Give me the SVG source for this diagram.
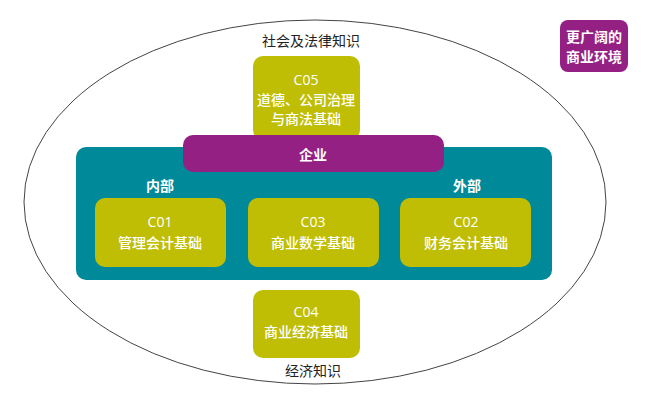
<svg xmlns="http://www.w3.org/2000/svg" width="671" height="400" viewBox="0 0 671 400">
<style>
.olive{fill:#c0be04}
.teal{fill:#008a99}
.purple{fill:#952084}
.w{fill:#ffffff;font-family:"Open Sans","Noto Sans CJK SC",sans-serif;font-size:14px;font-weight:500;text-anchor:middle;dominant-baseline:central}
.b{font-weight:bold}
.d{fill:#222222;font-family:"Open Sans","Noto Sans CJK SC",sans-serif;font-size:14px;text-anchor:middle;dominant-baseline:central}
</style>
<rect width="671" height="400" fill="#ffffff"/>
<g id="env">
<ellipse cx="315" cy="202" rx="291" ry="182" fill="none" stroke="#444444" stroke-width="1"/>
<text class="d" x="311" y="40">社会及法律知识</text>
<text class="d" x="313" y="370">经济知识</text>
</g>
<g id="c05">
<rect class="olive" x="253" y="56" width="107" height="84" rx="10"/>
<text class="w" x="306" y="79">C05</text>
<text class="w" x="306" y="99">道德、公司治理</text>
<text class="w" x="306" y="118">与商法基础</text>
</g>
<g id="teal">
<rect class="teal" x="76" y="147" width="476" height="133" rx="10"/>
<text class="w b" x="160" y="185">内部</text>
<text class="w b" x="467" y="185">外部</text>
</g>
<g id="enterprise">
<rect class="purple" x="183" y="135" width="261" height="37" rx="10"/>
<text class="w b" x="313" y="154">企业</text>
</g>
<g id="c01">
<rect class="olive" x="95" y="198" width="131" height="69" rx="10"/>
<text class="w" x="160" y="221">C01</text>
<text class="w" x="160" y="242">管理会计基础</text>
</g>
<g id="c03">
<rect class="olive" x="248" y="198" width="131" height="69" rx="10"/>
<text class="w" x="313" y="221">C03</text>
<text class="w" x="313" y="242">商业数学基础</text>
</g>
<g id="c02">
<rect class="olive" x="400" y="198" width="131" height="69" rx="10"/>
<text class="w" x="466" y="221">C02</text>
<text class="w" x="466" y="242">财务会计基础</text>
</g>
<g id="c04">
<rect class="olive" x="253" y="290" width="107" height="68" rx="10"/>
<text class="w" x="306" y="311">C04</text>
<text class="w" x="306" y="331">商业经济基础</text>
</g>
<g id="wider">
<rect class="purple" x="560" y="20" width="68" height="52" rx="8"/>
<text class="w b" x="594" y="36">更广阔的</text>
<text class="w b" x="594" y="56">商业环境</text>
</g>
<g id="connectors"/>
</svg>
